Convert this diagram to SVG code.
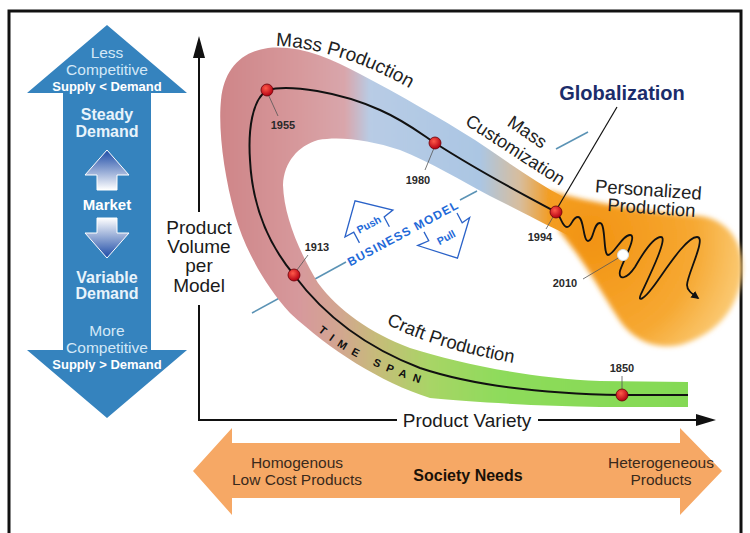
<svg xmlns="http://www.w3.org/2000/svg" width="750" height="533" viewBox="0 0 750 533">
<style>
.t{font-family:"Liberation Sans",Arial,Helvetica,sans-serif}
.yr{font-family:"Liberation Sans",Arial,sans-serif;font-size:11px;font-weight:bold;fill:#2a2a2a;text-anchor:middle}
.dot{fill:url(#dotg);stroke:#6a0008;stroke-width:0.8}
.lead{stroke:#555;stroke-width:0.8;fill:none}
.bl{stroke:#5b93b5;stroke-width:1.5}
.lt{fill:#d3e8f7;text-anchor:middle;font-size:15.5px}
.wb{fill:#e8f3fb;text-anchor:middle;font-size:16px;font-weight:bold}
.bk{fill:#3a2a1c;text-anchor:middle;font-size:15.5px}
.pp{fill:#fff;stroke:#2a62c8;stroke-width:1.3;stroke-linejoin:miter}
.bm{fill:#1f6ad8;font-weight:bold}
</style>
<defs>
<radialGradient id="dotg" cx="0.4" cy="0.35" r="0.65">
<stop offset="0" stop-color="#ff5a4a"/><stop offset="1" stop-color="#b40012"/>
</radialGradient>
<linearGradient id="topg" gradientUnits="userSpaceOnUse" x1="200" y1="0" x2="700" y2="0">
<stop offset="0" stop-color="#cc8083"/>
<stop offset="0.2" stop-color="#d7999c"/>
<stop offset="0.29" stop-color="#d9a6ab"/>
<stop offset="0.34" stop-color="#b8cce5"/>
<stop offset="0.56" stop-color="#abc6e3"/>
<stop offset="0.64" stop-color="#d8bd9c"/>
<stop offset="0.7" stop-color="#f39c22"/>
<stop offset="1" stop-color="#f5a530"/>
</linearGradient>
<linearGradient id="botg" gradientUnits="userSpaceOnUse" x1="200" y1="0" x2="700" y2="0">
<stop offset="0" stop-color="#cc8083"/>
<stop offset="0.2" stop-color="#d7999c"/>
<stop offset="0.28" stop-color="#d2a690"/>
<stop offset="0.36" stop-color="#c5bd78"/>
<stop offset="0.46" stop-color="#a8d566"/>
<stop offset="0.6" stop-color="#8edb5b"/>
<stop offset="1" stop-color="#84d955"/>
</linearGradient>
<radialGradient id="fang" gradientUnits="userSpaceOnUse" cx="590" cy="240" r="175">
<stop offset="0" stop-color="#f29312"/>
<stop offset="0.6" stop-color="#f6a832"/>
<stop offset="1" stop-color="#fcd68c"/>
</radialGradient>
<linearGradient id="upg" x1="0" y1="0" x2="0" y2="1">
<stop offset="0" stop-color="#1c4aa6"/><stop offset="1" stop-color="#ffffff"/>
</linearGradient>
<linearGradient id="dng" x1="0" y1="0" x2="0" y2="1">
<stop offset="0" stop-color="#ffffff"/><stop offset="1" stop-color="#1c4aa6"/>
</linearGradient>
<filter id="soft" x="-10%" y="-10%" width="120%" height="120%"><feGaussianBlur stdDeviation="2.5"/></filter>
<filter id="soft1" x="-5%" y="-5%" width="110%" height="110%"><feGaussianBlur stdDeviation="0.8"/></filter>
<clipPath id="bandclip">
<path d="M688,407 L600,407 C540,406 470,402 430,398 C380,382 330,350 290,313 C265,285 245,250 235,215 C224,175 218,130 221,100 C224,70 240,52 268,48 C300,45 330,58 360,74 C400,95 440,118 475,140 C505,160 535,182 565,198 L570,236 C540,222 515,208 490,196 C460,180 430,162 400,150 C370,140 340,136 318,140 C298,146 284,162 283,185 C284,215 298,250 318,283 C338,310 370,333 410,348 C460,364 530,378 600,381 L688,382 Z"/>
</clipPath>
<path id="mpPath" d="M276,46 C318,47 374,64 432,102"/>
<path id="cpPath" d="M386,324 C422,342 467,356 537,367"/>
<path id="tsPath" d="M318,331 C341,352 381,373 445,391"/>
<marker id="ah" viewBox="0 0 10 10" refX="8" refY="5" markerWidth="8" markerHeight="8" orient="auto" markerUnits="userSpaceOnUse">
<path d="M0,0 L10,5 L0,10 Z" fill="#111"/>
</marker>
</defs>

<rect x="0" y="0" width="750" height="533" fill="#fff"/>
<rect x="9" y="11" width="732" height="540" fill="none" stroke="#111" stroke-width="3"/>

<g id="market-arrow" class="t">
<polygon points="107,25 187,93 151,93 151,350 187,350 107,418 27,350 63,350 63,93 27,93" fill="#3583be"/>
<text class="lt" x="107" y="58">Less</text>
<text class="lt" x="107" y="75">Competitive</text>
<text x="107" y="91" fill="#fff" font-size="13" font-weight="bold" text-anchor="middle">Supply &lt; Demand</text>
<text class="wb" x="107" y="120">Steady</text>
<text class="wb" x="107" y="137">Demand</text>
<polygon points="107,150 129,175 117,175 117,190 97,190 97,175 85,175" fill="url(#upg)" stroke="#fff" stroke-width="1"/>
<text x="107" y="210" fill="#fff" font-size="15" font-weight="bold" text-anchor="middle">Market</text>
<polygon points="97,218 117,218 117,233 129,233 107,258 85,233 97,233" fill="url(#dng)" stroke="#fff" stroke-width="1"/>
<text class="wb" x="107" y="283">Variable</text>
<text class="wb" x="107" y="299">Demand</text>
<text class="lt" x="107" y="336">More</text>
<text class="lt" x="107" y="353">Competitive</text>
<text x="107" y="369" fill="#fff" font-size="13" font-weight="bold" text-anchor="middle">Supply &gt; Demand</text>
</g>

<g id="society-arrow" class="t">
<polygon points="193,471 232,428 232,443 680,443 680,428 722,471 680,515 680,498 232,498 232,515" fill="#f6a865"/>
<text class="bk" x="297" y="468">Homogenous</text>
<text class="bk" x="297" y="485">Low Cost Products</text>
<text x="468" y="481" fill="#1a1208" font-size="16" font-weight="bold" text-anchor="middle">Society Needs</text>
<text class="bk" x="661" y="468">Heterogeneous</text>
<text class="bk" x="661" y="485">Products</text>
</g>

<g id="axes" class="t">
<line x1="199" y1="56" x2="199" y2="212" stroke="#111" stroke-width="2"/>
<line x1="199" y1="305" x2="199" y2="421" stroke="#111" stroke-width="2"/>
<polygon points="199,36 193,58 205,58" fill="#111"/>
<line x1="198" y1="420" x2="397" y2="420" stroke="#111" stroke-width="2"/>
<line x1="538" y1="420" x2="698" y2="420" stroke="#111" stroke-width="2"/>
<polygon points="716,420 696,414 696,426" fill="#111"/>
<text x="199" y="234" font-size="19" fill="#1a1a1a" text-anchor="middle">Product</text>
<text x="199" y="253" font-size="19" fill="#1a1a1a" text-anchor="middle">Volume</text>
<text x="199" y="272" font-size="19" fill="#1a1a1a" text-anchor="middle">per</text>
<text x="199" y="292" font-size="19" fill="#1a1a1a" text-anchor="middle">Model</text>
<text x="467" y="427" font-size="19" fill="#1a1a1a" text-anchor="middle">Product Variety</text>
</g>

<g id="business-line">
<line class="bl" x1="252" y1="313" x2="285" y2="295"/>
<line class="bl" x1="315" y1="279" x2="346" y2="262"/>
<line class="bl" x1="460" y1="200" x2="477" y2="191"/>
<line class="bl" x1="556" y1="149" x2="588" y2="132"/>
</g>

<g id="paradigm-band">
<g clip-path="url(#bandclip)" filter="url(#soft1)">
<rect x="200" y="30" width="400" height="400" fill="url(#topg)"/>
<polygon points="200,250 330,250 560,340 750,340 750,533 200,533" fill="url(#botg)"/>
</g>
<path d="M548,190 C580,200 640,212 700,216 C730,220 745,245 742,275 C738,310 715,335 680,345 C655,350 632,340 618,318 C600,290 585,262 560,232 Z" fill="url(#fang)" filter="url(#soft)"/>
</g>

<g id="band-labels" class="t">
<text font-size="19" fill="#222"><textPath href="#mpPath">Mass Production</textPath></text>
<text font-size="18.5" fill="#222"><textPath href="#cpPath">Craft Production</textPath></text>
<text font-size="11" font-weight="bold" fill="#111" letter-spacing="7"><textPath href="#tsPath">TIME SPAN</textPath></text>
<text font-size="18" fill="#222" text-anchor="middle" transform="translate(524,137) rotate(34)">Mass</text>
<text font-size="18" fill="#222" text-anchor="middle" transform="translate(512,155) rotate(33)">Customization</text>
<text font-size="18.5" fill="#222" text-anchor="middle" transform="translate(648,196) rotate(4)">Personalized</text>
<text font-size="18.5" fill="#222" text-anchor="middle" transform="translate(651,214) rotate(4)">Production</text>
<text x="622" y="100" font-size="20" font-weight="bold" fill="#1b2d6b" text-anchor="middle">Globalization</text>
</g>

<g id="business-model" class="t" transform="translate(403,233) rotate(-28.3)">
<polyline class="pp" points="-43,-12 -43,-24 -53,-24 -27,-51 2,-25 -9,-23 -9,-12"/>
<text x="-26" y="-20" font-size="10.5" class="bm" text-anchor="middle">Push</text>
<text x="0" y="4.5" font-size="12" class="bm" letter-spacing="1.2" text-anchor="middle">BUSINESS MODEL</text>
<polyline class="pp" points="19,9 19,19 7,18 36,48 66,18 57,19 57,8"/>
<text x="36" y="28" font-size="10.5" class="bm" text-anchor="middle">Pull</text>
</g>

<g id="connectors" fill="none">
<path id="timeline" d="M688,395 L622,395 C560,394 480,388 420,368 C360,345 320,310 294,275 C265,240 252,200 250,160 C248,130 252,100 267,90 C290,84 340,92 380,110 C405,121 420,133 435,143 C480,172 520,193 556,212" stroke="#111" stroke-width="2"/>
<path id="wiggle" d="M556,212 C561,216 562,227 567,227 C572,227 572,217 578,217 C584,217 583,241 588,241 C594,241 593,223 600,223 C606,223 603,255 608,255 C614,255 622,235 630,235 C638,235 622,263 620,271 C618,281 627,279 635,267 C643,253 653,237 661,237 C669,237 646,283 641,294 C637,303 644,299 653,287 C665,271 686,237 697,237 C707,237 687,275 687,285 C687,290 691,293 698,298" stroke="#111" stroke-width="1.8" marker-end="url(#ah)"/>
<line x1="617" y1="107" x2="558" y2="207" stroke="#111" stroke-width="1.2"/>
<line class="lead" x1="268" y1="94" x2="278" y2="116"/>
<line class="lead" x1="434" y1="148" x2="425" y2="170"/>
<line class="lead" x1="553" y1="217" x2="546" y2="229"/>
<line class="lead" x1="297" y1="270" x2="308" y2="255"/>
<line class="lead" x1="622" y1="376" x2="622" y2="389"/>
<line class="lead" x1="583" y1="279" x2="620" y2="257"/>
</g>

<g id="milestones">
<circle class="dot" cx="267" cy="90" r="6"/>
<circle class="dot" cx="435" cy="143" r="6"/>
<circle class="dot" cx="556" cy="212" r="6"/>
<circle class="dot" cx="294" cy="275" r="6"/>
<circle class="dot" cx="622" cy="395" r="6"/>
<circle cx="623" cy="255" r="5.5" fill="#fff" stroke="#d5e0ea" stroke-width="1"/>
<text class="yr" x="283" y="129">1955</text>
<text class="yr" x="418" y="184">1980</text>
<text class="yr" x="540" y="241">1994</text>
<text class="yr" x="317" y="251">1913</text>
<text class="yr" x="622" y="372">1850</text>
<text class="yr" x="565" y="287">2010</text>
</g>
</svg>
